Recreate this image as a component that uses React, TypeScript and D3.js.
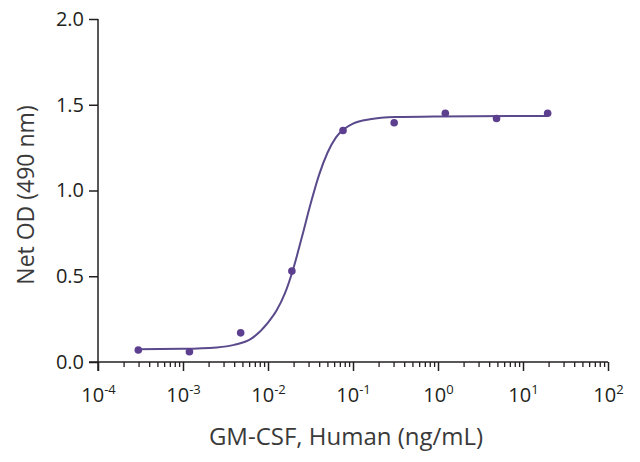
import { useRef, useEffect } from 'react';
import * as d3 from 'd3';

// measured points (ng/mL, net OD)
const concentrations = [0.000298, 0.00119, 0.00477, 0.0191, 0.0763, 0.305, 1.22, 4.88, 19.5];
const netOD = [0.07, 0.06, 0.17, 0.53, 1.35, 1.395, 1.45, 1.42, 1.45];

// fitted curve
const curveX = [0.000298, 0.001, 0.0025, 0.004, 0.0063, 0.01, 0.0126, 0.0158, 0.02, 0.0251, 0.0316, 0.0398, 0.0501, 0.0631, 0.0794, 0.1, 0.158, 0.316, 1, 19.5];
const curveY = [0.075, 0.077, 0.085, 0.1, 0.135, 0.23, 0.3, 0.4, 0.55, 0.73, 0.92, 1.09, 1.22, 1.31, 1.36, 1.39, 1.415, 1.428, 1.432, 1.435];

const yTicks = [0, 0.5, 1.0, 1.5, 2.0];
const xDecades = [-4, -3, -2, -1, 0, 1, 2];

const WIDTH = 640;
const HEIGHT = 462;

export default function App() {
  const svgRef = useRef<SVGSVGElement>(null);

  useEffect(() => {
    if (!svgRef.current) return;
    const svg = d3.select(svgRef.current);
    svg.selectAll('*').remove();

    const margin = { top: 19, right: 32, bottom: 100, left: 98 };
    const innerWidth = WIDTH - margin.left - margin.right;
    const innerHeight = HEIGHT - margin.top - margin.bottom;

    const g = svg.append('g').attr('transform', `translate(${margin.left},${margin.top})`);

    const xScale = d3.scaleLog().domain([1e-4, 1e2]).range([0, innerWidth]);
    const yScale = d3.scaleLinear().domain([0, 2]).range([innerHeight, 0]);

    const axisColor = '#231f20';
    const font = '"Open Sans", "DejaVu Sans", sans-serif';

    // Y axis
    g.append('g')
      .call(
        d3.axisLeft(yScale)
          .tickValues(yTicks)
          .tickSize(9)
          .tickPadding(5)
          .tickFormat((d) => d3.format('.1f')(d as number))
      )
      .call((a) => a.select('.domain').attr('d', `M0,${innerHeight + 9}V0`).attr('stroke', axisColor).attr('stroke-width', 1.5))
      .call((a) => a.selectAll('.tick line').attr('stroke', axisColor).attr('stroke-width', 1.5))
      .call((a) =>
        a.selectAll('.tick text')
          .attr('fill', axisColor)
          .attr('font-size', '20px')
          .attr('font-family', font)
      );

    // X axis: minor ticks
    const minorTicks: number[] = [];
    xDecades.slice(0, -1).forEach((e) => {
      for (let k = 2; k <= 9; k++) minorTicks.push(k * Math.pow(10, e));
    });
    g.append('g')
      .attr('transform', `translate(0,${innerHeight})`)
      .call(d3.axisBottom(xScale).tickValues(minorTicks).tickSize(5).tickFormat(() => ''))
      .call((a) => a.select('.domain').remove())
      .call((a) => a.selectAll('.tick line').attr('stroke', axisColor).attr('stroke-width', 1.3));

    // X axis: major ticks
    const xAxis = g.append('g')
      .attr('transform', `translate(0,${innerHeight})`)
      .call(
        d3.axisBottom(xScale)
          .tickValues(xDecades.map((e) => Math.pow(10, e)))
          .tickSize(9)
          .tickPadding(10)
          .tickFormat(() => '')
      )
      .call((a) => a.select('.domain').attr('d', `M-9,0H${innerWidth}`).attr('stroke', axisColor).attr('stroke-width', 1.5))
      .call((a) => a.selectAll('.tick line').attr('stroke', axisColor).attr('stroke-width', 1.5));

    xAxis.selectAll<SVGTextElement, number>('.tick text')
      .attr('fill', axisColor)
      .attr('font-size', '20px')
      .attr('font-family', font)
      .attr('dy', '1.05em')
      .each(function (d) {
        const t = d3.select(this);
        const e = Math.round(Math.log10(d));
        t.text('10');
        t.append('tspan')
          .attr('font-size', '13px')
          .attr('dy', '-0.6em')
          .text(String(e));
      });

    // Fitted curve
    const line = d3.line<number>()
      .x((_, i) => xScale(curveX[i]))
      .y((d) => yScale(d))
      .curve(d3.curveMonotoneX);

    g.append('path')
      .datum(curveY)
      .attr('d', line)
      .attr('fill', 'none')
      .attr('stroke', '#5a4a8c')
      .attr('stroke-width', 2);

    // Points
    g.selectAll('.dot')
      .data(netOD)
      .enter()
      .append('circle')
      .attr('class', 'dot')
      .attr('cx', (_, i) => xScale(concentrations[i]))
      .attr('cy', (d) => yScale(d))
      .attr('r', 3.8)
      .attr('fill', '#5c3f8f');

    // Axis titles
    svg.append('text')
      .attr('x', 346)
      .attr('y', 445)
      .attr('text-anchor', 'middle')
      .attr('fill', '#3a3a3a')
      .attr('font-size', '24px')
      .attr('font-family', font)
      .text('GM-CSF, Human (ng/mL)');

    svg.append('text')
      .attr('transform', `translate(34,${195}) rotate(-90)`)
      .attr('text-anchor', 'middle')
      .attr('fill', '#3a3a3a')
      .attr('font-size', '23px')
      .attr('font-family', font)
      .text('Net OD (490 nm)');
  }, []);

  return (
    <svg
      ref={svgRef}
      width={WIDTH}
      height={HEIGHT}
      style={{ position: 'absolute', left: 0, top: 0, background: '#fff' }}
    />
  );
}
